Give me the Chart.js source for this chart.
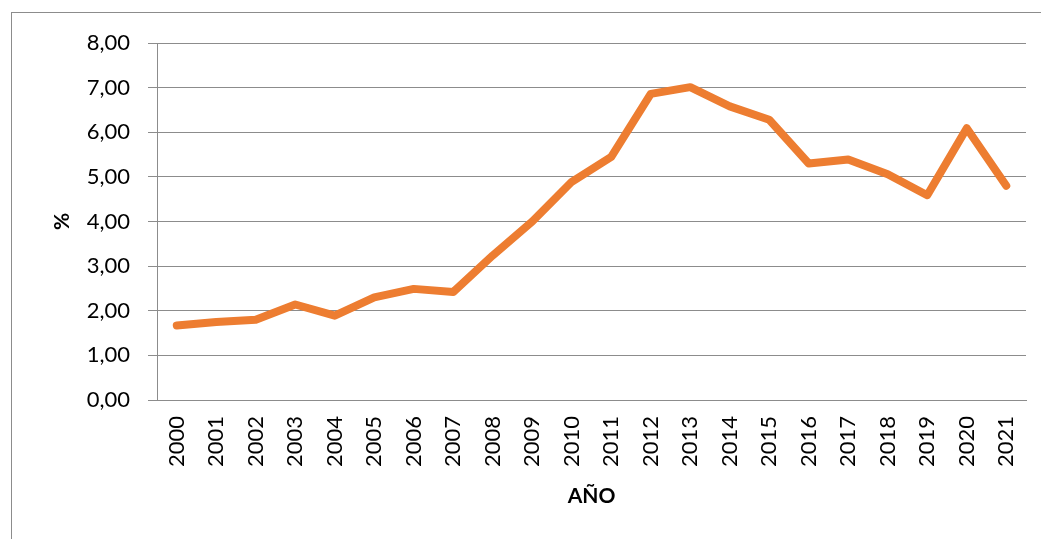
<!DOCTYPE html>
<html>
<head>
<meta charset="utf-8">
<script src="https://cdn.jsdelivr.net/npm/chart.js@4.4.1/dist/chart.umd.min.js"></script>
<style>
    html, body { margin: 0; padding: 0; background: #fff; overflow: hidden; }
    #wrap { position: relative; width: 1041px; height: 539px; }
    #frame {
        position: absolute; left: 11px; top: 12px; width: 1100px; height: 600px;
        border-top: 1px solid #8c8c8c; border-left: 1px solid #8c8c8c;
        pointer-events: none;
    }
</style>
</head>
<body>
<div id="wrap">
    <canvas id="chart" width="1041" height="539"></canvas>
    <div id="frame"></div>
</div>
<script>
// --- Data ---
const years = ['2000', '2001', '2002', '2003', '2004', '2005', '2006', '2007', '2008', '2009', '2010',
               '2011', '2012', '2013', '2014', '2015', '2016', '2017', '2018', '2019', '2020', '2021'];
const percent = [1.67, 1.75, 1.80, 2.14, 1.89, 2.30, 2.49, 2.42, 3.24, 4.00, 4.89,
                 5.45, 6.86, 7.01, 6.58, 6.28, 5.30, 5.39, 5.06, 4.59, 6.09, 4.80];
const yTicks = [0, 1, 2, 3, 4, 5, 6, 7, 8];

const gridGray = '#8c8c8c';
const font = 'Lato, "Open Sans", sans-serif';

const ctx = document.getElementById('chart').getContext('2d');
new Chart(ctx, {
    type: 'line',
    data: {
        labels: years,
        datasets: [{
            label: '%',
            data: percent,
            borderColor: '#ED7D31',
            borderWidth: 8,
            borderCapStyle: 'round',
            borderJoinStyle: 'round',
            pointRadius: 0,
            tension: 0,
            fill: false
        }]
    },
    options: {
        responsive: false,
        animation: false,
        layout: { padding: { left: 0, top: 43, right: 15, bottom: 0 } },
        plugins: {
            legend: { display: false },
            tooltip: { enabled: false }
        },
        scales: {
            x: {
                offset: true,
                grid: { display: false, drawTicks: false },
                border: { display: true, color: gridGray, width: 1 },
                ticks: {
                    color: '#000',
                    font: { family: font, size: 22 },
                    minRotation: 90, maxRotation: 90,
                    padding: 16,
                    autoSkip: false
                },
                title: {
                    display: true, text: 'AÑO', color: '#000',
                    font: { family: font, size: 21, weight: 'bold' },
                    padding: { top: 4, bottom: 30 }
                },
                afterFit: (scale) => {
                    scale.height = 139;
                    scale.paddingLeft = 0;
                    scale.paddingRight = 0;
                }
            },
            y: {
                min: 0, max: 8,
                afterBuildTicks: (scale) => { scale.ticks = yTicks.map(v => ({ value: v })); },
                grid: { color: gridGray, lineWidth: 1, tickLength: 9, drawTicks: true },
                border: { display: true, color: gridGray, width: 1 },
                ticks: {
                    color: '#000',
                    font: { family: font, size: 22 },
                    padding: 18,
                    callback: (v) => v.toFixed(2).replace('.', ',')
                },
                title: {
                    display: true, text: '%', color: '#000',
                    font: { family: font, size: 21, weight: 'bold' },
                    padding: { top: 50, bottom: 0 }
                },
                afterFit: (scale) => { scale.width = 157; }
            }
        }
    }
});
</script>
</body>
</html>
